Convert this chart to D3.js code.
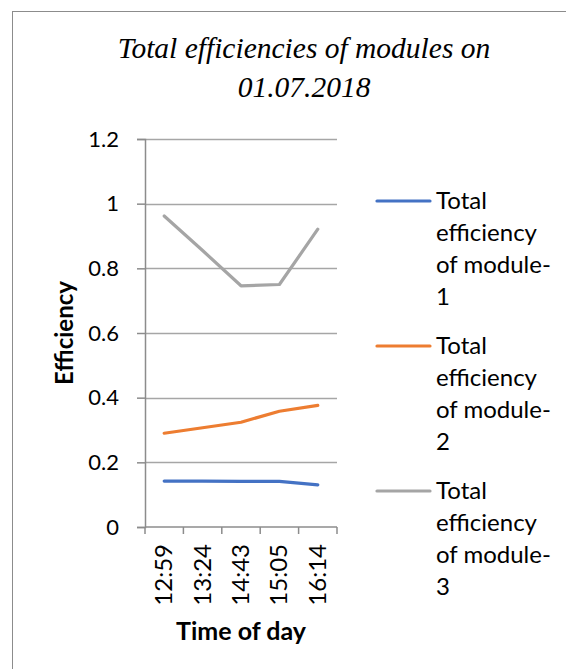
<!DOCTYPE html>
<html>
<head>
<meta charset="utf-8">
<script src="https://cdn.jsdelivr.net/npm/d3@7"></script>
<style>
  body { margin: 0; background: #fff; }
</style>
</head>
<body>
<svg id="chart" width="566" height="669"></svg>
<script>
const times = ["12:59", "13:24", "14:43", "15:05", "16:14"];
const module1 = [0.142, 0.142, 0.141, 0.141, 0.130];
const module2 = [0.290, 0.307, 0.324, 0.358, 0.376];
const module3 = [0.962, 0.855, 0.746, 0.750, 0.921];
const seriesNames = ["Total efficiency of module-1", "Total efficiency of module-2", "Total efficiency of module-3"];
const seriesColors = ["#4472C4", "#ED7D31", "#A5A5A5"];
const yTicks = [0, 0.2, 0.4, 0.6, 0.8, 1, 1.2];

const sans = "Lato, 'Liberation Sans', sans-serif";
const svg = d3.select("#chart").attr("font-family", sans);
const margin = { top: 139, left: 145 };
const width = 192, height = 388;

// outer chart border (cut off on right and bottom)
svg.append("rect")
    .attr("x", 12.5).attr("y", 11.5)
    .attr("width", 600).attr("height", 700)
    .attr("fill", "none").attr("stroke", "#8c8c8c").attr("stroke-width", 1);

const title = svg.append("text")
    .attr("text-anchor", "middle")
    .attr("font-family", "'Liberation Serif', 'Times New Roman', serif")
    .attr("font-style", "italic")
    .attr("font-size", 29.5);
title.append("tspan").attr("x", 304).attr("y", 58).text("Total efficiencies of modules on");
title.append("tspan").attr("x", 304).attr("y", 97).text("01.07.2018");

const g = svg.append("g").attr("transform", `translate(${margin.left},${margin.top})`);

const x = d3.scaleBand().domain(times).range([0, width]);
const y = d3.scaleLinear().domain([0, 1.2]).range([height, 0]);

// gridlines
g.append("g").selectAll("line").data(yTicks.slice(1)).enter().append("line")
    .attr("x1", 0).attr("x2", width)
    .attr("y1", d => Math.round(y(d)) + 0.5).attr("y2", d => Math.round(y(d)) + 0.5)
    .attr("stroke", "#a6a6a6").attr("stroke-width", 1.3);

// y axis
const yAxis = g.append("g")
    .call(d3.axisLeft(y).tickValues(yTicks).tickSize(8).tickPadding(18).tickFormat(d => d));
yAxis.selectAll("path, line").attr("stroke", "#8c8c8c").attr("stroke-width", 1.5);
yAxis.selectAll("text").attr("font-size", 22).attr("font-family", sans).attr("fill", "#000");

// x axis with ticks at category boundaries
const xAxis = g.append("g").attr("transform", `translate(0,${height})`);
xAxis.append("line").attr("x1", 0).attr("x2", width).attr("y1", 0).attr("y2", 0)
    .attr("stroke", "#8c8c8c").attr("stroke-width", 1.5);
const bounds = times.map(t => x(t)).concat([width]);
xAxis.selectAll(".tk").data(bounds).enter().append("line")
    .attr("x1", d => d).attr("x2", d => d).attr("y1", 0).attr("y2", 7)
    .attr("stroke", "#8c8c8c").attr("stroke-width", 1.5);
xAxis.selectAll(".lbl").data(times).enter().append("text")
    .attr("transform", d => `translate(${x(d) + x.bandwidth() / 2 + 8},17) rotate(-90)`)
    .attr("text-anchor", "end")
    .attr("font-size", 24)
    .text(d => d);

// axis titles
svg.append("text")
    .attr("x", 241).attr("y", 640)
    .attr("text-anchor", "middle")
    .attr("font-size", 25).attr("font-weight", "bold")
    .text("Time of day");
svg.append("text")
    .attr("transform", "translate(73,333) rotate(-90)")
    .attr("text-anchor", "middle")
    .attr("font-size", 24).attr("font-weight", "bold")
    .text("Efficiency");

// lines
const allSeries = [module1, module2, module3];
const line = d3.line()
    .x((d, i) => x(times[i]) + x.bandwidth() / 2)
    .y(d => y(d));
g.selectAll(".series").data(allSeries).enter().append("path")
    .attr("d", d => line(d))
    .attr("fill", "none")
    .attr("stroke", (d, i) => seriesColors[i])
    .attr("stroke-width", 3.2)
    .attr("stroke-linejoin", "round")
    .attr("stroke-linecap", "round");

// legend
const legendLines = [
    ["Total", "efficiency", "of module-", "1"],
    ["Total", "efficiency", "of module-", "2"],
    ["Total", "efficiency", "of module-", "3"]
];
const legend = svg.append("g");
legendLines.forEach((lines, i) => {
    const ly = 201 + i * 145;
    legend.append("line")
        .attr("x1", 377).attr("x2", 430).attr("y1", ly).attr("y2", ly)
        .attr("stroke", seriesColors[i]).attr("stroke-width", 3.2)
        .attr("stroke-linecap", "round");
    const t = legend.append("text").attr("font-size", 24);
    lines.forEach((s, j) => {
        t.append("tspan").attr("x", 436).attr("y", ly + 8 + j * 32).text(s);
    });
});
</script>
</body>
</html>
